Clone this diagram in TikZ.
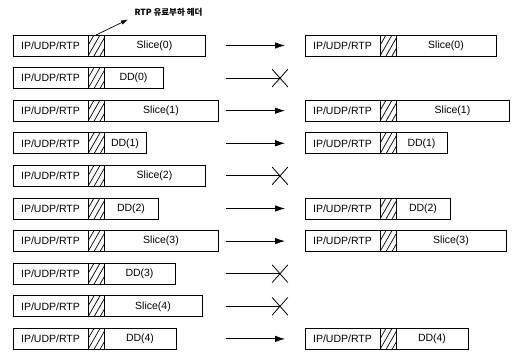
\documentclass[tikz,border=0pt]{standalone}
\usepackage{fontspec}
\setmainfont{Liberation Sans}
\newfontfamily\krfont{Noto Sans CJK KR}
\usetikzlibrary{positioning,arrows.meta,shapes.misc}

\begin{document}
\begin{tikzpicture}[
    x=1pt, y=-1pt,
    box/.style={draw, line width=0.8pt, minimum height=21pt, inner sep=0pt, outer sep=0pt, font=\fontsize{10.5}{12}\selectfont},
    hdr/.style={box, minimum width=75pt, anchor=west},
    hatch/.style={box, minimum width=16pt, path picture={
        \foreach \k in {-6,0,6,12}
          \draw[line width=0.7pt] ([xshift=\k pt]path picture bounding box.south west) -- ++(12pt,21pt);}},
    pay/.style={box, minimum width=#1pt},
    arrow/.style={-{Latex[length=10pt,width=6.5pt]}, line width=0.8pt},
    lost/.style={cross out, draw, line width=0.8pt, minimum width=15pt, minimum height=17pt, inner sep=0pt}
]
\useasboundingbox (0,0) rectangle (515,355);

% sent packets
\foreach \i/\name/\w in {0/Slice(0)/101, 1/DD(0)/59, 2/Slice(1)/114, 3/DD(1)/42, 4/Slice(2)/101,
                         5/DD(2)/54, 6/Slice(3)/114, 7/DD(3)/71, 8/Slice(4)/98, 9/DD(4)/72} {
  \pgfmathsetmacro\y{45.5+32.6*\i}
  \node[hdr] (sh\i) at (13,\y) {IP/UDP/RTP};
  \node[hatch, right=0pt of sh\i] (sx\i) {};
  \node[pay=\w, right=0pt of sx\i] (sp\i) {\name};
  \coordinate (out\i) at (226,\y);
}

% received packets
\foreach \i/\name/\w in {0/Slice(0)/100, 2/Slice(1)/113, 3/DD(1)/51, 5/DD(2)/54, 6/Slice(3)/110, 9/DD(4)/72} {
  \pgfmathsetmacro\y{45.5+32.6*\i}
  \coordinate (in\i) at (285,\y);
  \node[hdr] (rh\i) at (305,\y) {IP/UDP/RTP};
  \node[hatch, right=0pt of rh\i] (rx\i) {};
  \node[pay=\w, right=0pt of rx\i] (rp\i) {\name};
  \draw[arrow] (out\i) -- (in\i);
}

% lost packets
\foreach \i in {1,4,7,8} {
  \pgfmathsetmacro\y{45.5+32.6*\i}
  \node[lost] (x\i) at (280,\y) {};
  \draw[line width=0.8pt] (out\i) -- (x\i.center);
}

\node[anchor=west, font=\krfont\bfseries\fontsize{8.5}{10}\selectfont] (hdrlbl) at (131,12) {RTP 유료부하 헤더};
\draw[-{Latex[length=7pt,width=4.5pt]}, line width=0.7pt] (sx0.north) -- ([xshift=-3pt]hdrlbl.south west);
\end{tikzpicture}
\end{document}
